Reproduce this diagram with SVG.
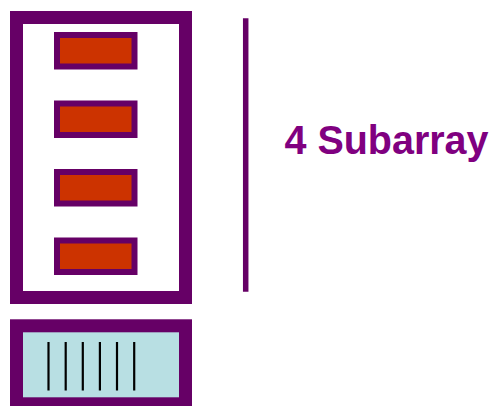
<svg xmlns="http://www.w3.org/2000/svg" width="491" height="406" viewBox="0 0 491 406">
<style>
.frame{fill:none;stroke:#660066;stroke-width:13}
.cell{fill:#cc3300;stroke:#660066;stroke-width:6}
.bit{stroke:#000;stroke-width:2.2}
.lbl{font-family:"Liberation Sans",Arial,sans-serif;font-weight:bold;font-size:41px;fill:#800080}
</style>
<rect width="491" height="406" fill="#fff"/>
<g id="array">
<rect class="frame" x="16.5" y="17.5" width="169" height="280"/>
</g>
<g id="sub1"><rect class="cell" x="57" y="35" width="77.5" height="31.5"/></g>
<g id="sub2"><rect class="cell" x="57" y="103.5" width="77.5" height="31.5"/></g>
<g id="sub3"><rect class="cell" x="57" y="172" width="77.5" height="31.5"/></g>
<g id="sub4"><rect class="cell" x="57" y="240.5" width="77.5" height="31.5"/></g>
<g id="decoder">
<rect x="16.5" y="325.8" width="169" height="78" fill="#b8dfe3" stroke="#660066" stroke-width="13"/>
<g class="bit">
<line x1="48.5" y1="342" x2="48.5" y2="390.5"/>
<line x1="65.7" y1="342" x2="65.7" y2="390.5"/>
<line x1="82.8" y1="342" x2="82.8" y2="390.5"/>
<line x1="99.9" y1="342" x2="99.9" y2="390.5"/>
<line x1="117" y1="342" x2="117" y2="390.5"/>
<line x1="134.2" y1="342" x2="134.2" y2="390.5"/>
</g>
</g>
<g id="connectors">
<line x1="245.7" y1="18.3" x2="245.7" y2="291.7" stroke="#660066" stroke-width="5.5"/>
</g>
<g id="label">
<text class="lbl" x="284.5" y="154" textLength="204" lengthAdjust="spacingAndGlyphs">4 Subarray</text>
</g>
</svg>
